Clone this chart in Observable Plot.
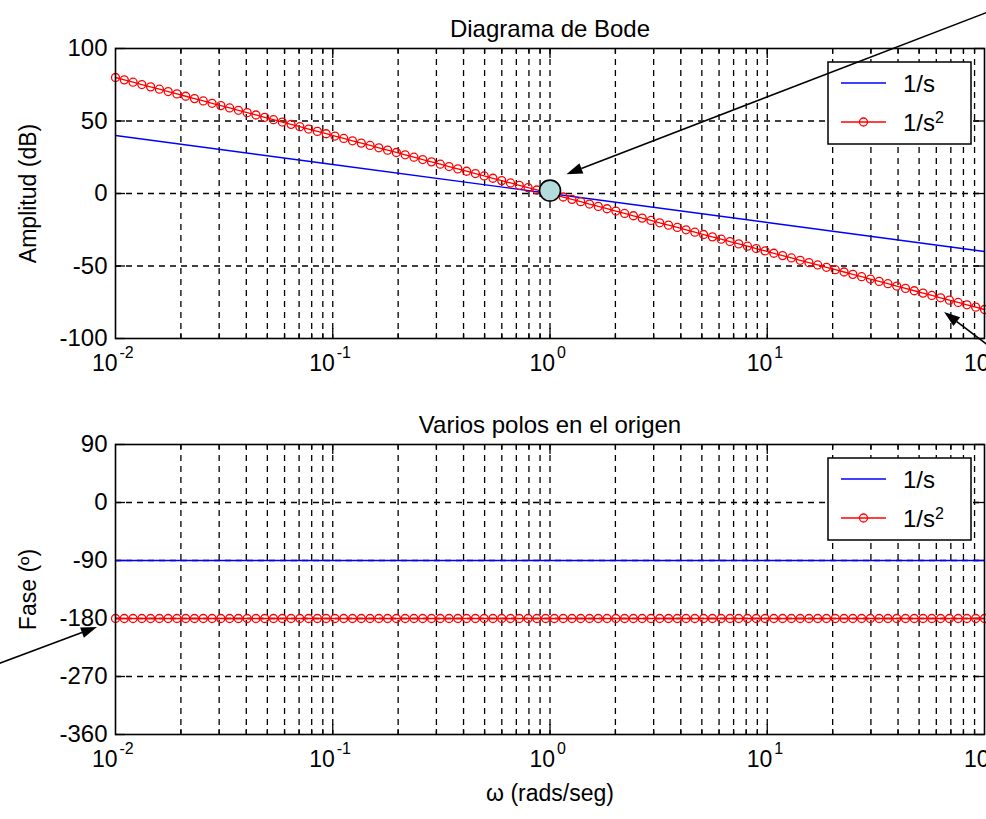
<!DOCTYPE html>
<html><head><meta charset="utf-8">
<script src="https://cdn.jsdelivr.net/npm/d3@7"></script>
<script src="https://cdn.jsdelivr.net/npm/@observablehq/plot@0.6"></script>
<style>body{margin:0;background:#fff} svg{display:block}</style>
</head><body><div id="chart"></div>
<script>
// ---- data ----
const freq = [0.01, 0.010975, 0.012045, 0.013219, 0.014508, 0.015923, 0.017475, 0.019179, 0.021049, 0.023101,
  0.025354, 0.027826, 0.030539, 0.033516, 0.036784, 0.040370, 0.044306, 0.048626, 0.053367, 0.058570,
  0.064281, 0.070548, 0.077425, 0.084975, 0.093260, 0.10235, 0.11233, 0.12328, 0.13530, 0.14850,
  0.16298, 0.17886, 0.19630, 0.21544, 0.23645, 0.25950, 0.28480, 0.31257, 0.34305, 0.37649,
  0.41320, 0.45349, 0.49770, 0.54623, 0.59948, 0.65793, 0.72208, 0.79248, 0.86975, 0.95454,
  1.0476, 1.1498, 1.2619, 1.3849, 1.5199, 1.6681, 1.8307, 2.0092, 2.2051, 2.4201,
  2.6561, 2.9151, 3.1993, 3.5112, 3.8535, 4.2292, 4.6416, 5.0941, 5.5908, 6.1359,
  6.7341, 7.3907, 8.1113, 8.9022, 9.7701, 10.723, 11.768, 12.916, 14.175, 15.557,
  17.074, 18.738, 20.565, 22.570, 24.771, 27.186, 29.836, 32.746, 35.938, 39.442,
  43.288, 47.508, 52.140, 57.223, 62.803, 68.926, 75.646, 83.022, 91.116, 100];
const magS2 = [80, 78.38, 76.77, 75.15, 73.54, 71.92, 70.30, 68.69, 67.07, 65.45,
  63.84, 62.22, 60.61, 58.99, 57.37, 55.76, 54.14, 52.53, 50.91, 49.29,
  47.68, 46.06, 44.44, 42.83, 41.21, 39.60, 37.98, 36.36, 34.75, 33.13,
  31.52, 29.90, 28.28, 26.67, 25.05, 23.43, 21.82, 20.20, 18.59, 16.97,
  15.35, 13.74, 12.12, 10.51, 8.89, 7.27, 5.66, 4.04, 2.42, 0.81,
  -0.81, -2.42, -4.04, -5.66, -7.27, -8.89, -10.51, -12.12, -13.74, -15.35,
  -16.97, -18.59, -20.20, -21.82, -23.43, -25.05, -26.67, -28.28, -29.90, -31.52,
  -33.13, -34.75, -36.36, -37.98, -39.60, -41.21, -42.83, -44.44, -46.06, -47.68,
  -49.29, -50.91, -52.53, -54.14, -55.76, -57.37, -58.99, -60.61, -62.22, -63.84,
  -65.45, -67.07, -68.69, -70.30, -71.92, -73.54, -75.15, -76.77, -78.38, -80];
const freqS = [0.01, 0.1, 1, 10, 100];
const magS = [40, 20, 0, -20, -40];
const phaseS = -90;
const phaseS2 = -180;

const decades = [0.01, 0.1, 1, 10, 100];
const decadeExp = ["-2", "-1", "0", "1", "2"];
const innerDecades = [0.1, 1, 10];
const minorX = [0.02, 0.03, 0.04, 0.05, 0.06, 0.07, 0.08, 0.09,
  0.2, 0.3, 0.4, 0.5, 0.6, 0.7, 0.8, 0.9,
  2, 3, 4, 5, 6, 7, 8, 9,
  20, 30, 40, 50, 60, 70, 80, 90];
const magTicks = [100, 50, 0, -50, -100];
const phaseTicks = [90, 0, -90, -180, -270, -360];
const legendLabels = ["1/s", "1/s"];
const legendSup = ["", "2"];
const titles = ["Diagrama de Bode", "Varios polos en el origen"];
const yLabels = ["Amplitud (dB)", "Fase (º)"];
const xLabel = "ω (rads/seg)";
const markerPoint = [{x: 1, y: 2}];
const topArrows = [{x1: 105, y1: 125, x2: 1.197, y2: 13}, {x1: 105.4, y1: -105.5, x2: 65.5, y2: -82}];
const bottomArrows = [{x1: 0.0028, y1: -253, x2: 0.00826, y2: -194}];

// ---- layout ----
const FONT = "'Liberation Sans', Arial, Helvetica, sans-serif";
const W = 986, ML = 115, MR = 2, PH = 290;
const PW = W - ML - MR;

function legendMark() {
  return (index, scales, values, dims) => {
    const bx = dims.width - dims.marginRight - 156, by = dims.marginTop + 14;
    const g = d3.create("svg:g").attr("font-family", FONT).attr("text-anchor", "start");
    g.append("rect").attr("x", bx).attr("y", by).attr("width", 143).attr("height", 82)
      .attr("fill", "white").attr("stroke", "black").attr("stroke-width", 1.5);
    legendLabels.forEach((lab, i) => {
      const cy = by + 21 + i * 39;
      const color = i === 0 ? "blue" : "red";
      g.append("line").attr("x1", bx + 13).attr("x2", bx + 58).attr("y1", cy).attr("y2", cy)
        .attr("stroke", color).attr("stroke-width", 1.3);
      if (i === 1) g.append("circle").attr("cx", bx + 35.5).attr("cy", cy).attr("r", 4)
        .attr("fill", "none").attr("stroke", color).attr("stroke-width", 1.3);
      const t = g.append("text").attr("x", bx + 75).attr("y", cy).attr("dy", "0.36em")
        .attr("font-size", 24).attr("fill", "black").attr("text-anchor", "start").text(lab);
      if (legendSup[i]) t.append("tspan").attr("dy", "-0.5em").attr("font-size", 16).text(legendSup[i]);
    });
    return g.node();
  };
}

function arrowsMark(list) {
  return (index, scales) => {
    const g = d3.create("svg:g");
    for (const a of list) {
      const x1 = scales.x(a.x1), y1 = scales.y(a.y1), x2 = scales.x(a.x2), y2 = scales.y(a.y2);
      const dx = x2 - x1, dy = y2 - y1, L = Math.hypot(dx, dy), ux = dx / L, uy = dy / L;
      const hl = 16, hw = 5.5;
      const bx = x2 - ux * hl, by = y2 - uy * hl;
      g.append("line").attr("x1", x1).attr("y1", y1).attr("x2", bx).attr("y2", by)
        .attr("stroke", "black").attr("stroke-width", 1.6);
      g.append("path").attr("d", `M${x2},${y2}L${bx - uy * hw},${by + ux * hw}L${bx + uy * hw},${by - ux * hw}Z`)
        .attr("fill", "black");
    }
    return g.node();
  };
}

function panel({height, marginTop, yDomain, yTicks, blue, red, title, ylabel, xlabel, arrows, marker}) {
  const yInner = yTicks.filter(v => v !== yDomain[0] && v !== yDomain[1]);
  const ticks = decades.map((v, i) => ({v, e: decadeExp[i]}));
  const neg = ticks.filter(d => d.e.startsWith("-"));
  const pos = ticks.filter(d => !d.e.startsWith("-"));
  const grid = {stroke: "black", strokeWidth: 1.3, strokeDasharray: "6,5"};
  const marks = [
    Plot.ruleX(minorX.concat(innerDecades), {x: d => d, ...grid}),
    Plot.ruleY(yInner, {y: d => d, ...grid}),
    Plot.tickX(innerDecades, {x: d => d, stroke: "black", strokeWidth: 1.3, insetTop: PH - 10}),
    Plot.tickX(innerDecades, {x: d => d, stroke: "black", strokeWidth: 1.3, insetBottom: PH - 10}),
    Plot.tickX(minorX, {x: d => d, stroke: "black", strokeWidth: 1.3, insetTop: PH - 5}),
    Plot.tickX(minorX, {x: d => d, stroke: "black", strokeWidth: 1.3, insetBottom: PH - 5}),
    Plot.tickY(yTicks, {y: d => d, stroke: "black", strokeWidth: 1.3, insetRight: PW - 10}),
    Plot.tickY(yTicks, {y: d => d, stroke: "black", strokeWidth: 1.3, insetLeft: PW - 10}),
    Plot.line(blue, {x: "x", y: "y", stroke: "blue", strokeWidth: 1.4}),
    Plot.line(red, {x: "x", y: "y", stroke: "red", strokeWidth: 1.3}),
    Plot.dot(red, {x: "x", y: "y", r: 4, stroke: "red", strokeWidth: 1.3, fill: "none"}),
    Plot.frame({stroke: "black", strokeWidth: 1.6})
  ];
  if (marker) marks.push(Plot.dot(marker, {x: "x", y: "y", r: 10.5, fill: "#b4dcdc", stroke: "black", strokeWidth: 1.6}));
  marks.push(legendMark());
  marks.push(arrowsMark(arrows));
  marks.push(
    Plot.text(yTicks, {y: d => d, frameAnchor: "left", textAnchor: "end", dx: -8, text: d => String(d), fontSize: 24, fill: "black"}),
    Plot.text(neg, {x: "v", frameAnchor: "bottom", text: () => "10", textAnchor: "end", dx: 2, dy: 32, fontSize: 23, fill: "black"}),
    Plot.text(neg, {x: "v", frameAnchor: "bottom", text: "e", textAnchor: "start", dx: 4, dy: 19, fontSize: 16, fill: "black"}),
    Plot.text(pos, {x: "v", frameAnchor: "bottom", text: () => "10", textAnchor: "end", dx: 5, dy: 32, fontSize: 23, fill: "black"}),
    Plot.text(pos, {x: "v", frameAnchor: "bottom", text: "e", textAnchor: "start", dx: 7, dy: 19, fontSize: 16, fill: "black"}),
    Plot.text([title], {frameAnchor: "top", textAnchor: "middle", text: d => d, dy: -29, fontSize: 24, fill: "black"}),
    Plot.text([ylabel], {frameAnchor: "left", textAnchor: "middle", text: d => d, dx: -87, rotate: -90, fontSize: 23, fill: "black"})
  );
  if (xlabel) marks.push(Plot.text([xlabel], {frameAnchor: "bottom", textAnchor: "middle", text: d => d, dy: 66, fontSize: 23, fill: "black"}));
  return Plot.plot({
    width: W, height, marginLeft: ML, marginRight: MR, marginTop, marginBottom: height - marginTop - PH,
    x: {type: "log", domain: [0.01, 100], axis: null},
    y: {domain: yDomain, axis: null},
    style: {fontFamily: FONT, background: "white", overflow: "visible"},
    marks
  });
}

const topBlue = freqS.map((x, i) => ({x, y: magS[i]}));
const topRed = freq.map((x, i) => ({x, y: magS2[i]}));
const botBlue = freqS.map(x => ({x, y: phaseS}));
const botRed = freq.map(x => ({x, y: phaseS2}));

const root = document.getElementById("chart");
root.append(panel({height: 390, marginTop: 48, yDomain: [-100, 100], yTicks: magTicks,
  blue: topBlue, red: topRed, title: titles[0], ylabel: yLabels[0], arrows: topArrows, marker: markerPoint}));
root.append(panel({height: 429, marginTop: 54, yDomain: [-360, 90], yTicks: phaseTicks,
  blue: botBlue, red: botRed, title: titles[1], ylabel: yLabels[1], xlabel: xLabel, arrows: bottomArrows}));
</script>
</body></html>
